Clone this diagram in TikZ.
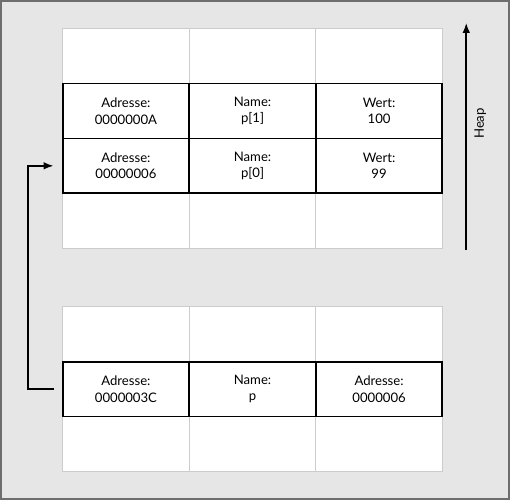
\documentclass[tikz,border=0pt]{standalone}
\usepackage{fontspec}
\setmainfont{Lato}
\usepackage{xcolor}
\usepackage{tikz}
\usetikzlibrary{arrows.meta, positioning}

\definecolor{pagegray}{HTML}{E6E6E6}
\definecolor{framegray}{HTML}{6E6E6E}
\definecolor{linegray}{HTML}{CCCCCC}

\begin{document}
\begin{tikzpicture}[
  cell/.style={draw=black, line width=1pt, fill=white, rectangle, minimum width=2.54cm, minimum height=1.1cm, inner sep=0pt, outer sep=0pt, align=center, font=\fontsize{7.5}{9.5}\selectfont},
  blank/.style={cell, draw=linegray, line width=0.6pt},
  arr/.style={-{Latex[length=2mm, width=1.5mm]}, line width=1pt},
  node distance=0pt
]
% page
\fill[pagegray, draw=framegray, line width=1pt] (0,0) rectangle (10.2,-10);
\useasboundingbox (0,0) rectangle (10.2,-10);

% heap table
\node[blank, anchor=north west] (t1) at (1.24,-0.56) {};
\node[blank, right=of t1] (t2) {};
\node[blank, right=of t2] (t3) {};
\node[blank, below=2.2cm of t1] (b1) {};
\node[blank, right=of b1] (b2) {};
\node[blank, right=of b2] (b3) {};

\node[cell, below=of t1] (adr1) {Adresse:\\0000000A};
\node[cell, right=of adr1] (nam1) {Name:\\p[1]};
\node[cell, right=of nam1] (val1) {Wert:\\100};
\node[cell, below=of adr1] (adr0) {Adresse:\\00000006};
\node[cell, right=of adr0] (nam0) {Name:\\p[0]};
\node[cell, right=of nam0] (val0) {Wert:\\99};

% pointer table
\node[blank, anchor=north west] (s1) at (1.24,-6.14) {};
\node[blank, right=of s1] (s2) {};
\node[blank, right=of s2] (s3) {};
\node[blank, below=1.1cm of s1] (u1) {};
\node[blank, right=of u1] (u2) {};
\node[blank, right=of u2] (u3) {};

\node[cell, below=of s1] (padr) {Adresse:\\0000003C};
\node[cell, right=of padr] (pnam) {Name:\\p};
\node[cell, right=of pnam] (pval) {Adresse:\\0000006};

% pointer arrow
\draw[arr] ([xshift=-0.18cm]padr.west) -- ++(-0.52,0) |- ([xshift=-0.18cm]adr0.west);

% heap direction
\coordinate (hbot) at (9.34,-5.0);
\coordinate (htop) at (9.34,-0.44);
\draw[arr] (hbot) -- (htop);
\node[rotate=90, font=\fontsize{7.5}{9.5}\selectfont] (heap) at (9.62,-2.46) {Heap};
\end{tikzpicture}
\end{document}
